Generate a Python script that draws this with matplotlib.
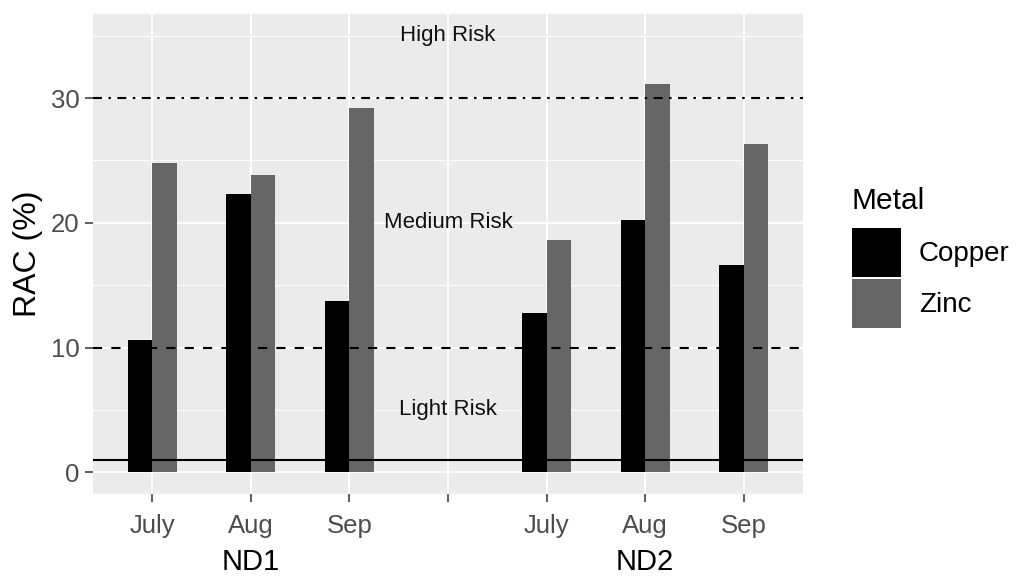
import matplotlib
matplotlib.use("Agg")
import matplotlib.pyplot as plt
import numpy as np
from matplotlib.patches import Patch

plt.rcParams["font.family"] = ["Liberation Sans", "DejaVu Sans"]

# data
sites = ["ND1", "ND2"]
months = ["July", "Aug", "Sep"]
copper = [10.6, 22.3, 13.7, 12.8, 20.2, 16.6]
zinc = [24.8, 23.8, 29.2, 18.6, 31.1, 26.3]
tick_labels = ["July", "Aug", "Sep", "", "July", "Aug", "Sep"]
risk_lines = [1, 10, 30]
risk_styles = ["-", (0, (4.4, 4.4)), (0, (4.3, 3.1, 1.2, 3.1))]
risk_text = ["Light Risk", "Medium Risk", "High Risk"]
risk_text_y = [5, 20, 35]

W, H = 1017, 580
fig = plt.figure(figsize=(W / 100, H / 100), dpi=100)
ax = fig.add_axes([93 / W, 86 / H, 710 / W, 480 / H])
ax.set_facecolor("#EBEBEB")

# slot 4 stays empty between the two sites
pos = np.array([s * 4 + m + 1 for s in range(len(sites)) for m in range(len(months))])
bw = 0.25
ax.bar(pos - bw / 2, copper, width=bw, color="black", zorder=2, label="Copper")
ax.bar(pos + bw / 2, zinc, width=bw, color="#666666", zorder=2, label="Zinc")

for y, ls in zip(risk_lines, risk_styles):
    ax.axhline(y, color="black", linestyle=ls, linewidth=1.5, zorder=3)
for t, y in zip(risk_text, risk_text_y):
    ax.text(4, y, t, ha="center", va="center", fontsize=16, color="#111111", zorder=4)

ax.set_xlim(0.4, 7.6)
ax.set_ylim(-1.75, 36.75)
ax.set_xticks(range(1, 8))
ax.set_xticklabels(tick_labels)
ax.set_yticks([0, 10, 20, 30])
ax.set_yticks([5, 15, 25, 35], minor=True)
ax.grid(which="major", color="white", linewidth=1.3, zorder=0)
ax.grid(which="minor", axis="y", color="white", linewidth=0.7, zorder=0)
ax.set_axisbelow(True)
for sp in ax.spines.values():
    sp.set_visible(False)
ax.tick_params(which="major", length=5.5, width=1.1, color="#333333",
               labelcolor="#4D4D4D", labelsize=18.5)
ax.tick_params(axis="x", pad=9)
ax.tick_params(axis="y", pad=4)
ax.tick_params(which="minor", length=0)
ax.set_ylabel("RAC (%)", fontsize=23, labelpad=6)

for s, site in enumerate(sites):
    ax.annotate(site, xy=(s * 4 + 2, 0), xycoords=("data", "axes fraction"),
                xytext=(0, -49), textcoords="offset points",
                ha="center", va="center", fontsize=21)

handles = [Patch(facecolor="black"), Patch(facecolor="#666666")]
fig.text(852 / W, 1 - 209 / H, "Metal", fontsize=21.5, ha="left", va="baseline")
fig.legend(handles, ["Copper", "Zinc"], loc="upper left",
           bbox_to_anchor=(852 / W, 1 - 227.7 / H), frameon=False,
           fontsize=20, handlelength=1.76, handleheight=2.337,
           labelspacing=0.07, handletextpad=0.65, borderpad=0, borderaxespad=0)

fig.savefig("out.png", dpi=100)
